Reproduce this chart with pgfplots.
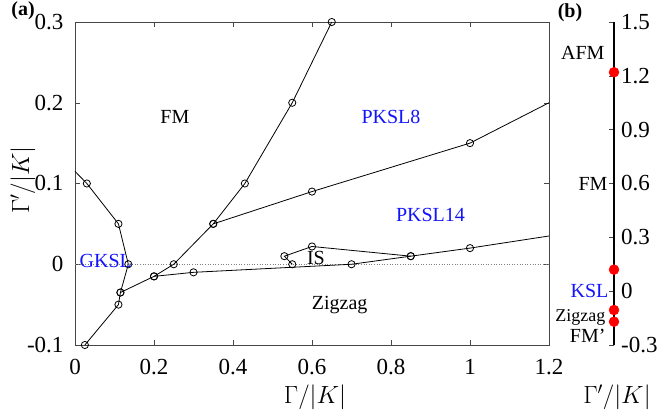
\documentclass[border=0pt]{standalone}
\usepackage{pgfplots}
\pgfplotsset{compat=1.18}
\usepackage{fontspec}
\setmainfont{Liberation Serif}

\definecolor{axgray}{RGB}{70,70,70}
\definecolor{lblue}{RGB}{20,20,250}

\newcommand{\labfont}{\fontsize{20}{22}\selectfont}
\newcommand{\axfont}{\fontsize{26}{30}\selectfont}

\pgfplotsset{
  pl/.style={black, line width=0.8pt, mark=o, mark size=3.6pt, mark options={solid, line width=0.8pt}},
  pn/.style={black, line width=0.8pt, mark=none},
}
\tikzset{
  xt/.style={font=\fontsize{23}{26}\selectfont, anchor=center, yshift=-22pt, inner sep=1pt},
  yt/.style={font=\fontsize{23}{26}\selectfont, anchor=east, xshift=-8pt},
  rt/.style={font=\fontsize{23}{26}\selectfont, anchor=west, xshift=6pt, inner sep=1pt},
}

\begin{document}
\begin{tikzpicture}
\useasboundingbox (0,0) rectangle (659pt,415pt);

% panel (a)
\begin{axis}[
    at={(75pt,70pt)}, anchor=south west,
    scale only axis, width=474pt, height=323pt,
    xmin=0, xmax=1.2, ymin=-0.1, ymax=0.3,
    xtick={0,0.2,0.4,0.6,0.8,1,1.2},
    ytick={-0.1,0,0.1,0.2,0.3},
    xticklabels=\empty, yticklabels=\empty,
    tick align=inside, major tick length=5pt,
    axis line style={axgray}, tick style={axgray},
    clip=false,
]
\addplot[gray, dotted, line width=0.6pt] coordinates {(0,0) (1.2,0)};
% GKSL boundary
\addplot[pn] coordinates {(0,0.115) (0.03,0.1)};
\addplot[pl] coordinates {(0.03,0.1) (0.11,0.05) (0.135,0) (0.115,-0.035) (0.11,-0.05) (0.025,-0.1)};
% FM / Zigzag boundary
\addplot[pl] coordinates {(0.115,-0.035) (0.2,-0.015) (0.25,0) (0.35,0.05) (0.43,0.1) (0.55,0.2) (0.65,0.3)};
% PKSL8 lower boundary
\addplot[pl] coordinates {(0.35,0.05) (0.6,0.09) (1.0,0.15)};
\addplot[pn] coordinates {(1.0,0.15) (1.2,0.2)};
% Zigzag upper boundary
\addplot[pl] coordinates {(0.2,-0.015) (0.3,-0.01) (0.7,0) (0.85,0.01) (1.0,0.02)};
\addplot[pn] coordinates {(1.0,0.02) (1.2,0.035)};
% IS loop
\addplot[pl] coordinates {(0.55,0) (0.53,0.01) (0.6,0.022) (0.85,0.01)};

% tick labels
\node[xt] at (axis cs:0,-0.1) {0};
\node[xt] at (axis cs:0.2,-0.1) {0.2};
\node[xt] at (axis cs:0.4,-0.1) {0.4};
\node[xt] at (axis cs:0.6,-0.1) {0.6};
\node[xt] at (axis cs:0.8,-0.1) {0.8};
\node[xt] at (axis cs:1,-0.1) {1};
\node[xt] at (axis cs:1.2,-0.1) {1.2};
\node[yt] at (axis cs:0,-0.1) {-0.1};
\node[yt] at (axis cs:0,0) {0};
\node[yt] at (axis cs:0,0.1) {0.1};
\node[yt] at (axis cs:0,0.2) {0.2};
\node[yt] at (axis cs:0,0.3) {0.3};

\node[font=\labfont] at (axis cs:0.253,0.182) {FM};
\node[font=\labfont, text=lblue] at (axis cs:0.8,0.182) {PKSL8};
\node[font=\labfont, text=lblue] at (axis cs:0.9,0.061) {PKSL14};
\node[font=\labfont, text=lblue] at (axis cs:0.078,0.004) {GKSL};
\node[font=\labfont] at (axis cs:0.61,0.008) {IS};
\node[font=\labfont] at (axis cs:0.67,-0.051) {Zigzag};
\end{axis}

% panel (b)
\begin{axis}[
    at={(564pt,70pt)}, anchor=south west,
    scale only axis, width=50pt, height=323pt,
    xmin=-1, xmax=0, ymin=-0.3, ymax=1.5,
    axis x line=none, axis y line*=right,
    ytick={-0.3,0,0.3,0.6,0.9,1.2,1.5},
    yticklabels=\empty,
    tick align=inside, major tick length=5pt,
    axis line style={black, line width=1.4pt}, tick style={axgray, line width=0.6pt},
    clip=false,
]
\addplot[only marks, mark=*, mark size=5pt, color=red] coordinates {(0,1.22) (0,0.12) (0,-0.105) (0,-0.17)};
\node[rt] at (axis cs:0,-0.3) {-0.3};
\node[rt] at (axis cs:0,0) {0};
\node[rt] at (axis cs:0,0.3) {0.3};
\node[rt] at (axis cs:0,0.6) {0.6};
\node[rt] at (axis cs:0,0.9) {0.9};
\node[rt] at (axis cs:0,1.2) {1.2};
\node[rt] at (axis cs:0,1.5) {1.5};
\node[font=\labfont, anchor=east] at (axis cs:-0.12,1.33) {AFM};
\node[font=\labfont, anchor=east] at (axis cs:-0.06,0.6) {FM};
\node[font=\labfont, anchor=east, text=lblue] at (axis cs:-0.04,0.0) {KSL};
\node[font=\fontsize{18}{20}\selectfont, anchor=east] at (axis cs:-0.1,-0.145) {Zigzag};
\node[font=\labfont, anchor=east] at (axis cs:-0.1,-0.25) {FM'};
\end{axis}

\node[font=\fontsize{20}{22}\selectfont\bfseries] at (23pt,404pt) {(a)};
\node[font=\fontsize{20}{22}\selectfont\bfseries] at (570pt,402pt) {(b)};
\node[font=\axfont, inner sep=1pt] at (315pt,18pt) {$\Gamma/|K|$};
\node[font=\axfont, rotate=90] at (23pt,235pt) {$\Gamma'/|K|$};
\node[font=\axfont, inner sep=1pt] at (617pt,18pt) {$\Gamma'/|K|$};
\end{tikzpicture}
\end{document}
